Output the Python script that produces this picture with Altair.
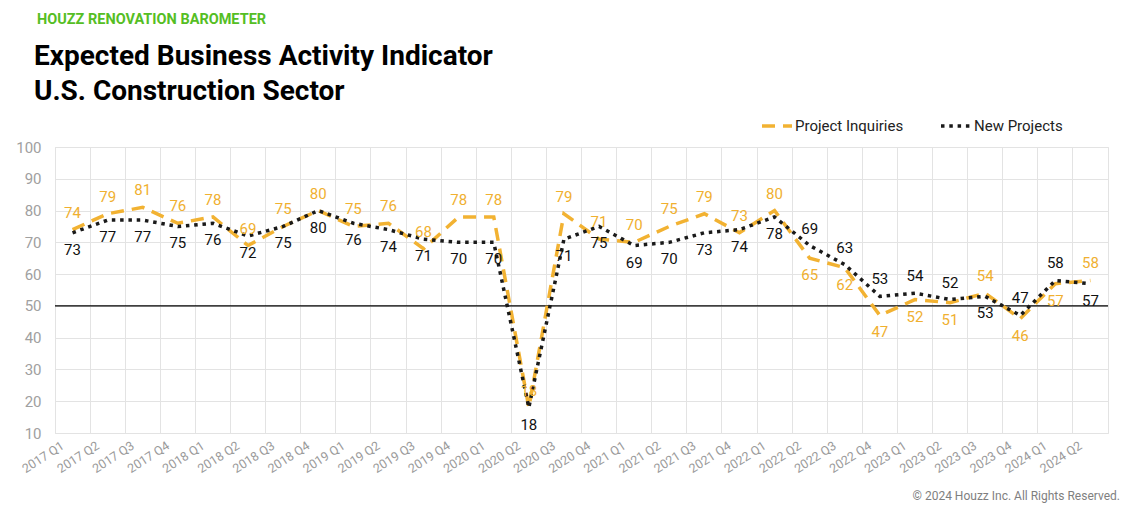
import altair as alt
import pandas as pd

quarters = [
    "2017 Q1", "2017 Q2", "2017 Q3", "2017 Q4",
    "2018 Q1", "2018 Q2", "2018 Q3", "2018 Q4",
    "2019 Q1", "2019 Q2", "2019 Q3", "2019 Q4",
    "2020 Q1", "2020 Q2", "2020 Q3", "2020 Q4",
    "2021 Q1", "2021 Q2", "2021 Q3", "2021 Q4",
    "2022 Q1", "2022 Q2", "2022 Q3", "2022 Q4",
    "2023 Q1", "2023 Q2", "2023 Q3", "2023 Q4",
    "2024 Q1", "2024 Q2",
]
inquiries = [74, 79, 81, 76, 78, 69, 75, 80, 75, 76, 68, 78, 78, 18, 79,
             71, 70, 75, 79, 73, 80, 65, 62, 47, 52, 51, 54, 46, 57, 58]
new_projects = [73, 77, 77, 75, 76, 72, 75, 80, 76, 74, 71, 70, 70, 18, 71,
                75, 69, 70, 73, 74, 78, 69, 63, 53, 54, 52, 53, 47, 58, 57]
series_names = ["Project Inquiries", "New Projects"]
y_ticks = [10, 20, 30, 40, 50, 60, 70, 80, 90, 100]

ORANGE = "#F2B232"
BLACK = "#1A1A1A"
GRID = "#E3E3E3"
FONT = "Roboto"

rows = []
for i, q in enumerate(quarters):
    a, b = inquiries[i], new_projects[i]
    late = i >= 21
    rows.append(dict(quarter=q, series="Project Inquiries", value=a,
                     above=(a >= b) if late else True))
for i, q in enumerate(quarters):
    a, b = inquiries[i], new_projects[i]
    late = i >= 21
    rows.append(dict(quarter=q, series="New Projects", value=b,
                     above=(b > a) if late else False))
df = pd.DataFrame(rows)

xscale = alt.Scale(type="band", paddingInner=0, paddingOuter=0, domain=quarters)
yscale = alt.Scale(domain=[10, 100], nice=False, zero=False)

x_axis = alt.Axis(labelAngle=-33, labelFontSize=12.5, labelColor="#9A9A9A",
                  labelFont=FONT, ticks=False, domain=False, grid=True,
                  gridColor=GRID, gridWidth=1, bandPosition=0,
                  labelPadding=6, labelOffset=-13, title=None)
y_axis = alt.Axis(values=y_ticks, labelFontSize=15, labelColor="#A0A0A0",
                  labelFont=FONT, ticks=False, domain=False, grid=True,
                  gridColor=GRID, gridWidth=1, labelPadding=14, title=None)

x_main = alt.X("quarter:N", sort=quarters, scale=xscale, title=None, axis=x_axis)
y_main = alt.Y("value:Q", scale=yscale, title=None, axis=y_axis)

fifty = alt.Chart(pd.DataFrame({"value": [50]})).mark_rule(
    color="#000000", strokeWidth=1.2
).encode(y=y_main)

legend = alt.Legend(title=None, orient="none", legendX=705, legendY=-38,
                    direction="horizontal", symbolType="stroke", symbolSize=900,
                    symbolStrokeWidth=3.5, labelFontSize=15, labelFont=FONT,
                    labelColor="#222222", columnPadding=30, labelOffset=1)

color_enc = alt.Color("series:N", scale=alt.Scale(domain=series_names, range=[ORANGE, BLACK]),
                      legend=legend)
dash_enc = alt.StrokeDash("series:N",
                          scale=alt.Scale(domain=series_names, range=[[13, 8], [3.5, 4.8]]),
                          legend=legend)

line_inq = alt.Chart(df).transform_filter("datum.series == 'Project Inquiries'").mark_line(
    strokeWidth=3.5
).encode(x=x_main, y=y_main, color=color_enc, strokeDash=dash_enc)
line_new = alt.Chart(df).transform_filter("datum.series == 'New Projects'").mark_line(
    strokeWidth=3.5
).encode(x=x_main, y=y_main, color=color_enc, strokeDash=dash_enc)

label_color = alt.condition("datum.series == 'New Projects'", alt.value("#111111"), alt.value("#F0B030"))
labels_above = alt.Chart(df).transform_filter("datum.above").mark_text(
    dy=-17, fontSize=15, font=FONT, baseline="middle"
).encode(x=x_main, y=y_main, text="value:Q", color=label_color)
labels_below = alt.Chart(df).transform_filter("!datum.above").mark_text(
    dy=17, fontSize=15, font=FONT, baseline="middle"
).encode(x=x_main, y=y_main, text="value:Q", color=label_color)

one = pd.DataFrame({"a": [0]})
t_green = alt.Chart(one).mark_text(
    text="HOUZZ RENOVATION BAROMETER", align="left", baseline="alphabetic",
    font=FONT, fontSize=14.5, fontWeight="bold", color="#55BE24"
).encode(x=alt.value(-18), y=alt.value(-123))
t_line1 = alt.Chart(one).mark_text(
    text="Expected Business Activity Indicator", align="left", baseline="alphabetic",
    font=FONT, fontSize=28, fontWeight="bold", color="#000000"
).encode(x=alt.value(-21), y=alt.value(-82))
t_line2 = alt.Chart(one).mark_text(
    text="U.S. Construction Sector", align="left", baseline="alphabetic",
    font=FONT, fontSize=28, fontWeight="bold", color="#000000"
).encode(x=alt.value(-21), y=alt.value(-47))
t_copy = alt.Chart(one).mark_text(
    text="© 2024 Houzz Inc. All Rights Reserved.", align="right", baseline="alphabetic",
    font=FONT, fontSize=12, color="#7F7F7F"
).encode(x=alt.value(1065), y=alt.value(353))

chart = alt.layer(
    fifty, line_inq, line_new, labels_above, labels_below,
    t_green, t_line1, t_line2, t_copy
).properties(
    width=1053, height=286,
    padding={"left": 47, "top": 139, "right": 12, "bottom": 72},
    autosize=alt.AutoSizeParams(type="none"),
).configure_view(stroke=GRID, strokeWidth=1)

chart.save("out.html", embed_options={"renderer": "svg", "actions": False})
